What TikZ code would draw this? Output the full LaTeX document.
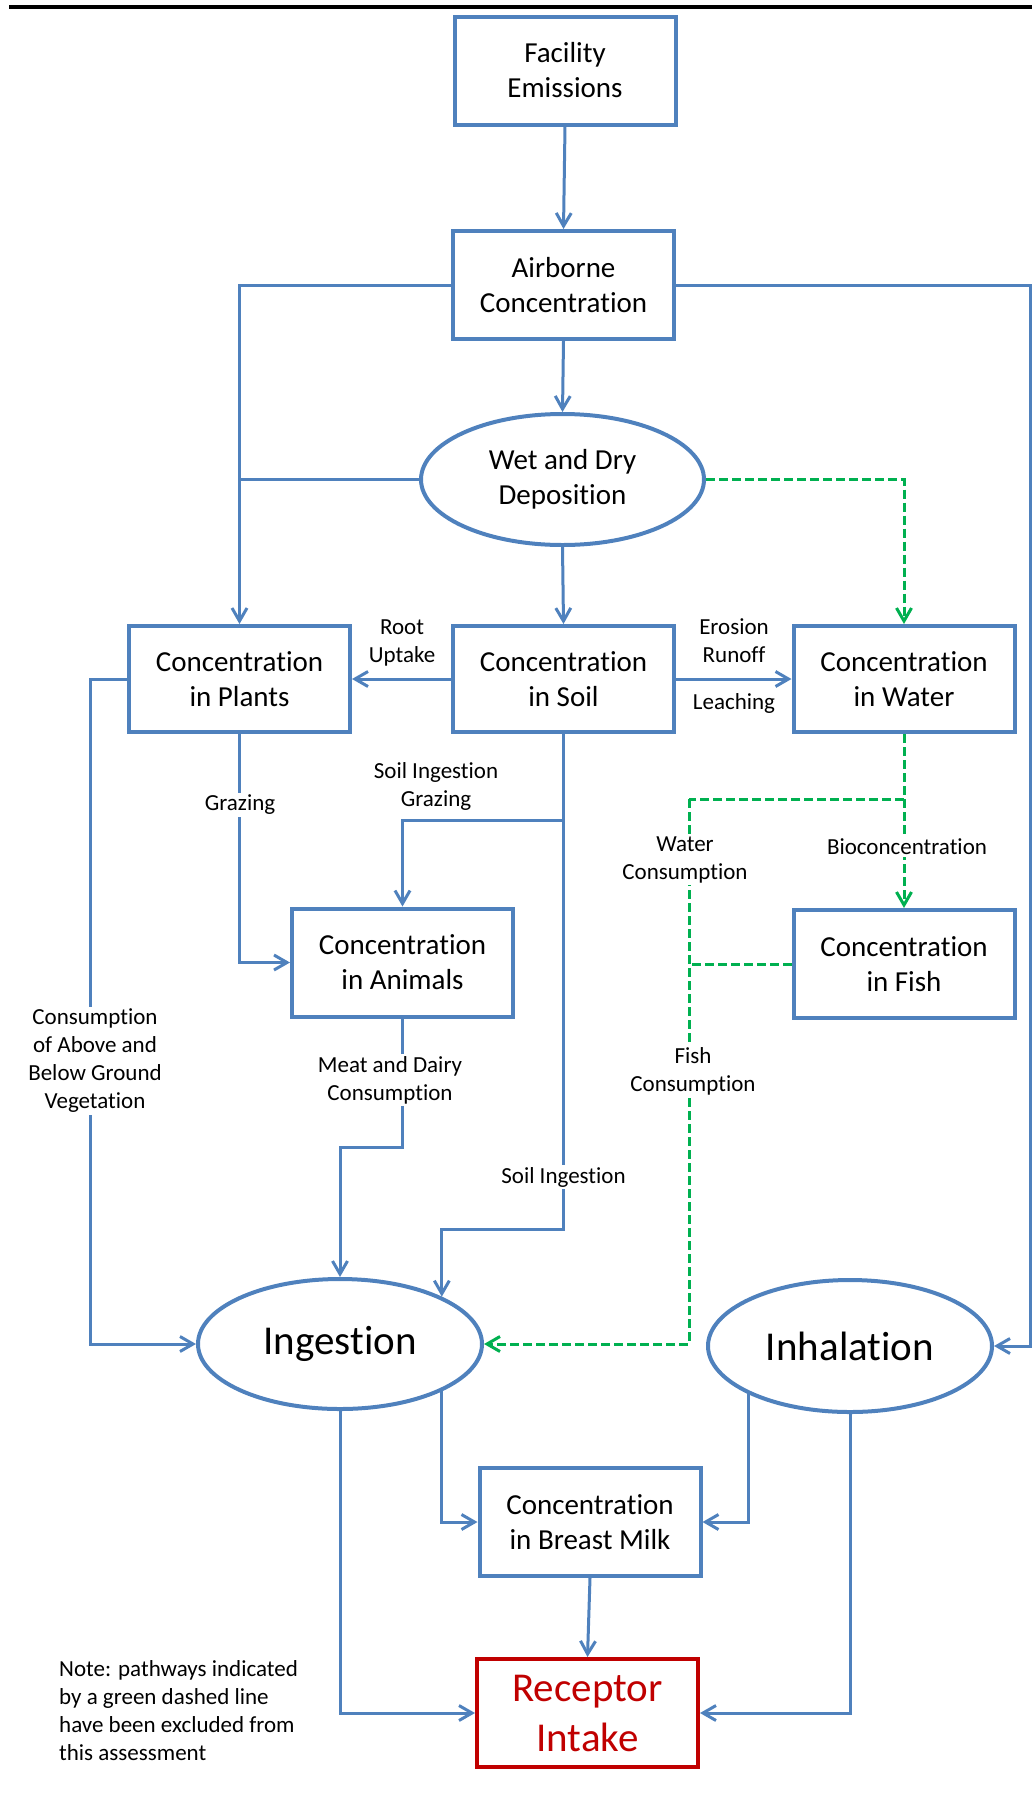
\documentclass[tikz,border=0pt]{standalone}
\usepackage{fontspec}
\setmainfont{Carlito}[Ligatures=NoCommon]
\usetikzlibrary{arrows.meta,shapes.geometric}
\definecolor{obl}{HTML}{4F81BD}
\definecolor{ogr}{HTML}{00B050}
\definecolor{ord}{HTML}{C00000}
\begin{document}
\begin{tikzpicture}[x=1pt,y=-1pt,
  boxfont/.style={font=\fontsize{29}{35}\selectfont},
  bigfont/.style={font=\fontsize{41}{50}\selectfont},
  box/.style={draw=obl,line width=4pt,minimum width=221pt,minimum height=108pt,inner sep=0pt,align=center,boxfont},
  oval/.style={ellipse,draw=obl,line width=4pt,inner sep=0pt,align=center},
  link/.style={draw=obl,line width=3pt},
  conn/.style={link,-{Straight Barb[length=13pt,width=15pt]}},
  gdash/.style={draw=ogr,line width=3pt,dash pattern=on 9pt off 4pt},
  gcon/.style={gdash,-{Straight Barb[length=13pt,width=15pt]}},
  lbl/.style={fill=white,inner sep=2pt,align=center,font=\fontsize{23}{28}\selectfont}]
\useasboundingbox (0,0) rectangle (1032,1794);
\draw[line width=4pt] (9,7) -- (1032,7);

% nodes
\node[box] (fac) at (565,70.5) {Facility\\Emissions};
\node[box] (air) at (563.5,285) {Airborne\\Concentration};
\node[oval,minimum width=283pt,minimum height=131pt,boxfont] (dep) at (562.5,479.5) {Wet and Dry\\Deposition};
\node[box,minimum height=106pt] (pla) at (239.5,679) {Concentration\\in Plants};
\node[box,minimum height=106pt] (soi) at (563.5,679) {Concentration\\in Soil};
\node[box,minimum height=106pt] (wat) at (904,679) {Concentration\\in Water};
\node[box] (ani) at (402.5,962.5) {Concentration\\in Animals};
\node[box] (fis) at (904,964) {Concentration\\in Fish};
\node[oval,minimum width=284pt,minimum height=130pt,bigfont] (ing) at (340,1344) {Ingestion};
\node[oval,minimum width=284pt,minimum height=132pt,bigfont] (inh) at (850,1346) {Inhalation};
\node[box] (mil) at (590,1522) {Concentration\\in Breast Milk};
\node[box,draw=ord,text=ord,bigfont] (rec) at (587.5,1713) {Receptor\\Intake};

% coordinates
\coordinate (rt) at (1030,285);
\coordinate (pl) at (90,679);
\coordinate (sj) at (563.5,820);
\coordinate (sb) at (563.5,1229);
\coordinate (ab) at (402.5,1147);
\coordinate (gj) at (904,799);
\coordinate (gw) at (689,799);

% blue connectors
\draw[conn] (fac.south) -- (air.north);
\draw[conn] (air.west) -| (pla.north);
\draw[link] (dep.west) -- (dep.west -| pla.north);
\draw[conn] (air.east) -- (rt) |- (inh.east);
\draw[conn] (air.south) -- (dep.north);
\draw[conn] (dep.south) -- (soi.north);
\draw[conn] (soi.west) -- (pla.east);
\draw[conn] (soi.east) -- (wat.west);
\draw[conn] (pla.west) -- (pl) |- (ing.west);
\draw[conn] (pla.south) |- (ani.west);
\draw[conn] (soi.south) -- (sb) -| (ing.north east);
\draw[conn] (sj) -| (ani.north);
\draw[conn] (ani.south) -- (ab) -| (ing.north);
\draw[conn] (ing.south) |- (rec.west);
\draw[conn] (ing.south east) |- (mil.west);
\draw[conn] (inh.south west) |- (mil.east);
\draw[conn] (inh.south) |- (rec.east);
\draw[conn] (mil.south) -- (rec.north);

% green dashed connectors
\draw[gcon] (dep.east) -| (wat.north);
\draw[gcon] (wat.south) -- (fis.north);
\draw[gdash] (gj) -- (gw);
\draw[gcon] (gw) |- (ing.east);
\draw[gdash] (fis.west) -- (fis.west -| gw);

% labels
\node[lbl] (lru) at (402,643) {Root\\Uptake};
\node[lbl] (ler) at (734,640.5) {Erosion\\Runoff};
\node[lbl] (lle) at (734,703) {Leaching};
\node[lbl] (lgz) at (240,805) {Grazing};
\node[lbl] (lsg) at (436,786) {Soil Ingestion\\Grazing};
\node[lbl] (lsi) at (563.5,1177) {Soil Ingestion};
\node[lbl] (lmd) at (390,1080) {Meat and Dairy\\Consumption};
\node[lbl] (lcv) at (95,1061) {Consumption\\of Above and\\Below Ground\\Vegetation};
\node[lbl] (lwc) at (685,859.5) {Water\\Consumption};
\node[lbl] (lbc) at (907,847) {Bioconcentration};
\node[lbl] (lfc) at (693,1071) {Fish\\Consumption};
\node[anchor=west,align=left,inner sep=0pt,font=\fontsize{23}{28}\selectfont] (note) at (59,1710.5) {Note: pathways indicated\\by a green dashed line\\have been excluded from\\this assessment};
\end{tikzpicture}
\end{document}
